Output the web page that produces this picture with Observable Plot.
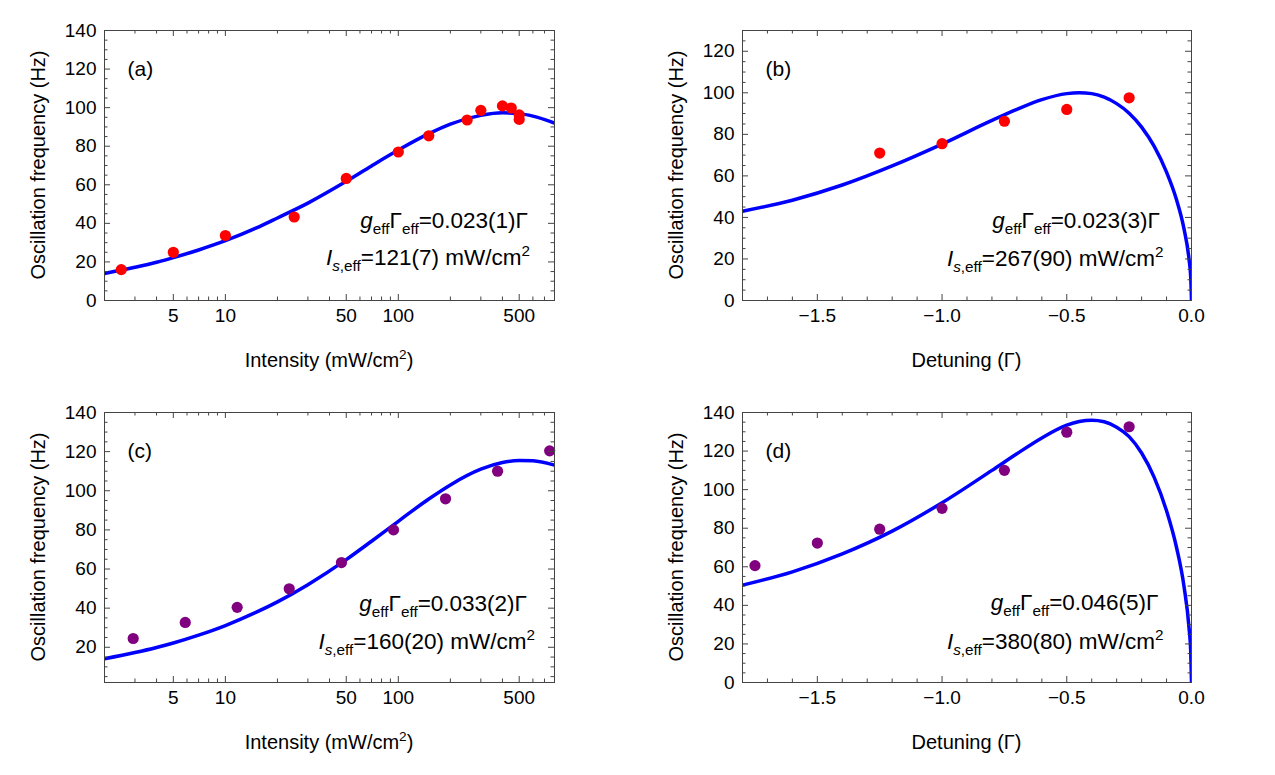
<!DOCTYPE html>
<html><head><meta charset="utf-8">
<script src="https://cdn.jsdelivr.net/npm/d3@7"></script>
<script src="https://cdn.jsdelivr.net/npm/@observablehq/plot@0.6"></script>
<style>
body{margin:0;background:#fff;}
#wrap{position:relative;width:1275px;height:775px;background:#fff;overflow:hidden;}
.panel{position:absolute;}
</style></head><body><div id="wrap"></div>
<script>
// ---------- data ----------
const intensityTicks = [5, 10, 50, 100, 500];
const intensityMinor = [3, 4, 6, 7, 8, 9, 20, 30, 40, 60, 70, 80, 90, 200, 300, 400, 600, 700];
const detuningTicks = [-1.5, -1.0, -0.5, 0.0];
const detuningMinor = [-1.7, -1.6, -1.4, -1.3, -1.2, -1.1, -0.9, -0.8, -0.7, -0.6, -0.4, -0.3, -0.2, -0.1];
const freqTicksA = [0, 20, 40, 60, 80, 100, 120, 140];
const freqTicksB = [0, 20, 40, 60, 80, 100, 120];
const freqTicksC = [20, 40, 60, 80, 100, 120, 140];

// (a) intensity scan, red points
const aIntensity = [2.5, 5, 10, 25, 50, 100, 150, 250, 300, 400, 450, 500, 500];
const aFreq = [16.0, 25.0, 33.7, 43.3, 63.3, 77.0, 85.4, 93.6, 98.6, 100.9, 99.8, 96.2, 93.9];
const aFitIntensity = [2, 3, 4, 5, 7, 10, 15, 20, 30, 50, 70, 100, 150, 200, 300, 400, 500, 600, 800];
const aFitFreq = [14.0, 17.2, 19.8, 22.2, 26.2, 31.0, 37.5, 42.8, 50.5, 61.8, 69.8, 78.0, 86.5, 91.5, 96.0, 97.3, 96.9, 95.6, 92.0];

// (b) detuning scan, red points
const bDetuning = [-1.25, -1.0, -0.75, -0.5, -0.25];
const bFreq = [71.0, 75.5, 86.3, 92.0, 97.6];
const bFitDetuning = [-1.8, -1.6, -1.4, -1.2, -1.0, -0.8, -0.7, -0.6, -0.5, -0.45, -0.4, -0.35, -0.3, -0.25, -0.2, -0.15, -0.1, -0.06, -0.03, -0.01, -0.003, 0];
const bFitFreq = [43.0, 48.3, 55.6, 64.8, 75.3, 86.7, 92.0, 96.7, 99.6, 100.0, 99.6, 97.9, 94.8, 90.2, 83.5, 74.3, 61.8, 48.5, 34.5, 20.0, 11.0, 0];

// (c) intensity scan, purple points
const cIntensity = [2.93, 5.86, 11.7, 23.4, 46.9, 93.8, 187.5, 375, 750];
const cFreq = [24.5, 32.7, 40.4, 49.9, 63.3, 80.0, 95.9, 110.0, 120.4];
const cFitIntensity = [2, 3, 4, 5, 7, 10, 15, 20, 30, 50, 70, 100, 150, 200, 300, 400, 500, 600, 800];
const cFitFreq = [14.1, 17.3, 19.9, 22.2, 26.2, 31.1, 37.8, 43.2, 52.0, 64.8, 74.2, 84.4, 95.8, 103.0, 111.0, 114.4, 115.5, 115.3, 113.1];

// (d) detuning scan, purple points
const dDetuning = [-1.75, -1.5, -1.25, -1.0, -0.75, -0.5, -0.25];
const dFreq = [60.6, 72.3, 79.5, 90.3, 110.0, 129.8, 132.6];
const dFitDetuning = [-1.8, -1.6, -1.4, -1.2, -1.0, -0.8, -0.7, -0.6, -0.5, -0.45, -0.4, -0.35, -0.3, -0.25, -0.2, -0.15, -0.1, -0.06, -0.03, -0.01, -0.003, 0];
const dFitFreq = [50.5, 57.4, 66.7, 78.5, 93.2, 110.0, 118.6, 126.8, 133.4, 135.3, 136.0, 135.2, 132.4, 127.5, 119.0, 106.5, 89.0, 70.0, 49.8, 28.4, 15.6, 0];

const annA = ["0.023(1)", "121(7)"];
const annB = ["0.023(3)", "267(90)"];
const annC = ["0.033(2)", "160(20)"];
const annD = ["0.046(5)", "380(80)"];

// ---------- drawing ----------
const FONT = '"Liberation Sans", Arimo, Arial, Helvetica, sans-serif';
const FRAME = "#444";
const RED = "#ff0000", PURPLE = "#800080", BLUE = "#0000ff";
const yLabel = "Oscillation frequency (Hz)";
const zip = (xs, ys) => xs.map((x, i) => ({x, y: ys[i]}));
const minor5 = (lo, hi, majors) => d3.range(lo, hi + 0.001, 5).filter(v => !majors.includes(v) && v > lo && v < hi);

function rich(svg, parts, x, y, size, anchor) {
  const t = d3.select(svg).append("text")
    .attr("x", x).attr("y", y).attr("text-anchor", anchor)
    .attr("font-size", size).attr("font-family", FONT).attr("fill", "#000");
  let shift = 0;
  for (const p of parts) {
    const target = p.sub ? size * 0.28 : p.sup ? -size * 0.42 : 0;
    const ts = t.append("tspan").text(p.t).attr("dy", target - shift);
    shift = target;
    if (p.sub || p.sup) ts.attr("font-size", size * 0.68);
    if (p.it) ts.attr("font-style", "italic");
  }
}

function panel(cfg) {
  const W = cfg.width, H = cfg.height;
  const fw = W - cfg.mL - cfg.mR, fh = H - cfg.mT - cfg.mB;
  const xMinor = cfg.xMinor, yMinor = cfg.yMinor;
  const svg = Plot.plot({
    width: W, height: H,
    marginLeft: cfg.mL, marginRight: cfg.mR, marginTop: cfg.mT, marginBottom: cfg.mB,
    style: {fontFamily: FONT, background: "transparent", overflow: "visible"},
    x: {type: cfg.xType, domain: cfg.xDomain, axis: null},
    y: {type: "linear", domain: cfg.yDomain, axis: null},
    marks: [
      Plot.line(cfg.fit, {x: "x", y: "y", stroke: BLUE, strokeWidth: 3.5, curve: "monotone-x", clip: true}),
      Plot.dot(cfg.pts, {x: "x", y: "y", r: 5.6, fill: cfg.color, stroke: "none"}),
      Plot.frame({stroke: FRAME, strokeWidth: 1}),
      Plot.tickX(cfg.xMajor, {x: d => d, stroke: FRAME, insetTop: fh - 6}),
      Plot.tickX(cfg.xMajor, {x: d => d, stroke: FRAME, insetBottom: fh - 6}),
      Plot.tickX(xMinor, {x: d => d, stroke: FRAME, insetTop: fh - 3.5}),
      Plot.tickX(xMinor, {x: d => d, stroke: FRAME, insetBottom: fh - 3.5}),
      Plot.tickY(cfg.yMajor, {y: d => d, stroke: FRAME, insetRight: fw - 6}),
      Plot.tickY(cfg.yMajor, {y: d => d, stroke: FRAME, insetLeft: fw - 6}),
      Plot.tickY(yMinor, {y: d => d, stroke: FRAME, insetRight: fw - 3.5}),
      Plot.tickY(yMinor, {y: d => d, stroke: FRAME, insetLeft: fw - 3.5}),
      Plot.text(cfg.xMajor, {x: d => d, frameAnchor: "bottom", dy: 21, text: cfg.xFormat, fontSize: 19, fill: "#000"}),
      Plot.text(cfg.yMajor, {y: d => d, frameAnchor: "left", dx: -8, textAnchor: "end", text: d => String(d), fontSize: 19, fill: "#000"}),
      Plot.text([cfg.letter], {frameAnchor: "top-left", dx: 23, dy: 31, textAnchor: "start", text: d => d, fontSize: 21, fill: "#000"})
    ]
  });
  const fr = W - cfg.mR;
  // axis titles
  rich(svg, cfg.xLabel, cfg.mL + fw / 2, H - cfg.mB + 67, 20, "middle");
  d3.select(svg).append("text")
    .attr("transform", `translate(${cfg.mL - 66 + 7},${cfg.mT + fh / 2}) rotate(-90)`)
    .attr("text-anchor", "middle").attr("font-size", 20).attr("font-family", FONT).attr("fill", "#000")
    .text(yLabel);
  // fit annotations
  rich(svg, [{t: "g", it: true}, {t: "eff", sub: true}, {t: "Γ"}, {t: "eff", sub: true}, {t: "=" + cfg.ann[0] + "Γ"}],
       fr - cfg.r1, cfg.mT + cfg.y1, 22.5, "end");
  rich(svg, [{t: "I", it: true}, {t: "s", sub: true, it: true}, {t: ",eff", sub: true}, {t: "=" + cfg.ann[1] + " mW/cm"}, {t: "2", sup: true}],
       fr - cfg.r2, cfg.mT + cfg.y2, 22.5, "end");
  const div = document.createElement("div");
  div.className = "panel";
  div.style.left = cfg.left + "px";
  div.style.top = cfg.top + "px";
  div.appendChild(svg);
  document.getElementById("wrap").appendChild(div);
}

const intensityCommon = {xType: "log", xDomain: [2, 800], xMajor: intensityTicks, xMinor: intensityMinor,
  xFormat: d => String(d), xLabel: [{t: "Intensity (mW/cm"}, {t: "2", sup: true}, {t: ")"}]};
const detuningCommon = {xType: "linear", xDomain: [-1.8, 0], xMajor: detuningTicks, xMinor: detuningMinor,
  xFormat: d3.format(".1f"), xLabel: [{t: "Detuning (Γ)"}]};

panel({...intensityCommon, left: 0, top: 0, width: 637, height: 387, mL: 104, mR: 83, mT: 30, mB: 87,
  yDomain: [0, 140], yMajor: freqTicksA, yMinor: minor5(0, 140, freqTicksA),
  pts: zip(aIntensity, aFreq), fit: zip(aFitIntensity, aFitFreq), color: RED, letter: "(a)",
  ann: annA, r1: 26, r2: 24, y1: 198, y2: 235});

panel({...detuningCommon, left: 637, top: 0, width: 638, height: 387, mL: 105, mR: 84, mT: 30, mB: 87,
  yDomain: [0, 130], yMajor: freqTicksB, yMinor: minor5(0, 130, freqTicksB),
  pts: zip(bDetuning, bFreq), fit: zip(bFitDetuning, bFitFreq), color: RED, letter: "(b)",
  ann: annB, r1: 31, r2: 27.5, y1: 198, y2: 236});

panel({...intensityCommon, left: 0, top: 387, width: 637, height: 388, mL: 104, mR: 83, mT: 25, mB: 93,
  yDomain: [2, 140], yMajor: freqTicksC, yMinor: minor5(0, 140, freqTicksC),
  pts: zip(cIntensity, cFreq), fit: zip(cFitIntensity, cFitFreq), color: PURPLE, letter: "(c)",
  ann: annC, r1: 27, r2: 19, y1: 199, y2: 237});

panel({...detuningCommon, left: 637, top: 387, width: 638, height: 388, mL: 105, mR: 84, mT: 25, mB: 93,
  yDomain: [0, 140], yMajor: freqTicksA, yMinor: minor5(0, 140, freqTicksA),
  pts: zip(dDetuning, dFreq), fit: zip(dFitDetuning, dFitFreq), color: PURPLE, letter: "(d)",
  ann: annD, r1: 32.5, r2: 27.5, y1: 198, y2: 237});
</script></body></html>
